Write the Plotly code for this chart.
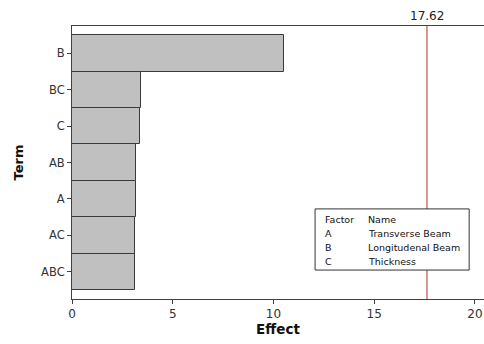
import plotly.graph_objects as go

terms = ["B", "BC", "C", "AB", "A", "AC", "ABC"]
effects = [10.52, 3.44, 3.36, 3.19, 3.18, 3.11, 3.11]
ref_value = 17.62
x_ticks = [0, 5, 10, 15, 20]
legend_header = ("Factor", "Name")
factor_codes = ["A", "B", "C"]
factor_names = ["Transverse Beam", "Longitudenal Beam", "Thickness"]

axis_col = "#404040"
font_fam = "DejaVu Sans"

fig = go.Figure()
fig.add_trace(go.Bar(
    x=effects, y=terms, orientation="h",
    marker=dict(color="#c0c0c0", line=dict(color="#3a3a3a", width=1)),
    width=1.0, showlegend=False, hoverinfo="skip",
))

fig.update_layout(
    width=484, height=344,
    margin=dict(l=72, r=0, t=26, b=45),
    paper_bgcolor="white", plot_bgcolor="white",
    bargap=0,
    font=dict(family=font_fam, size=10, color="#222"),
    xaxis=dict(
        range=[0, 20.45], tickvals=x_ticks, showgrid=False, zeroline=False,
        showline=True, linecolor=axis_col, linewidth=1, mirror=True,
        ticks="outside", ticklen=4, tickcolor=axis_col,
        tickfont=dict(size=12, family=font_fam, color="#333"),
        title=dict(text="<b>Effect</b>", font=dict(size=13.5, family=font_fam, color="#111"), standoff=4),
    ),
    yaxis=dict(
        categoryorder="array", categoryarray=terms[::-1],
        range=[-0.75, 6.75], showgrid=False, zeroline=False,
        showline=True, linecolor=axis_col, linewidth=1,
        ticks="outside", ticklen=4, tickcolor=axis_col,
        tickfont=dict(size=11.5, family=font_fam, color="#333"),
        title=dict(text="<b>Term</b>", font=dict(size=13, family=font_fam, color="#111"), standoff=14),
    ),
)

fig.add_shape(type="line", xref="x", yref="paper", x0=ref_value, x1=ref_value,
              y0=0, y1=1, line=dict(color="#b03030", width=1))
fig.add_annotation(x=ref_value, y=1, xref="x", yref="paper", text=f"{ref_value:.2f}",
                   showarrow=False, yanchor="bottom", yshift=1,
                   font=dict(size=12, family=font_fam, color="#222"))

# factor table box
bx0, bx1, by0, by1 = 0.59, 0.964, 0.106, 0.330
fig.add_shape(type="rect", xref="paper", yref="paper", x0=bx0, x1=bx1, y0=by0, y1=by1,
              line=dict(color="#333", width=1), fillcolor="white", layer="above")
rows = [legend_header] + list(zip(factor_codes, factor_names))
col1, col2 = 0.610, 0.713
top_y = 0.293
dy = 14 / 273
for i, (c, n) in enumerate(rows):
    yy = top_y - i * dy
    fig.add_annotation(x=col1, y=yy, xref="paper", yref="paper", text=c, showarrow=False,
                       xanchor="left", yanchor="middle", font=dict(size=9.5, family=font_fam, color="#111"))
    fig.add_annotation(x=col2, y=yy, xref="paper", yref="paper", text=n, showarrow=False,
                       xanchor="left", yanchor="middle", font=dict(size=9.5, family=font_fam, color="#111"))

fig.write_html("out.html")
